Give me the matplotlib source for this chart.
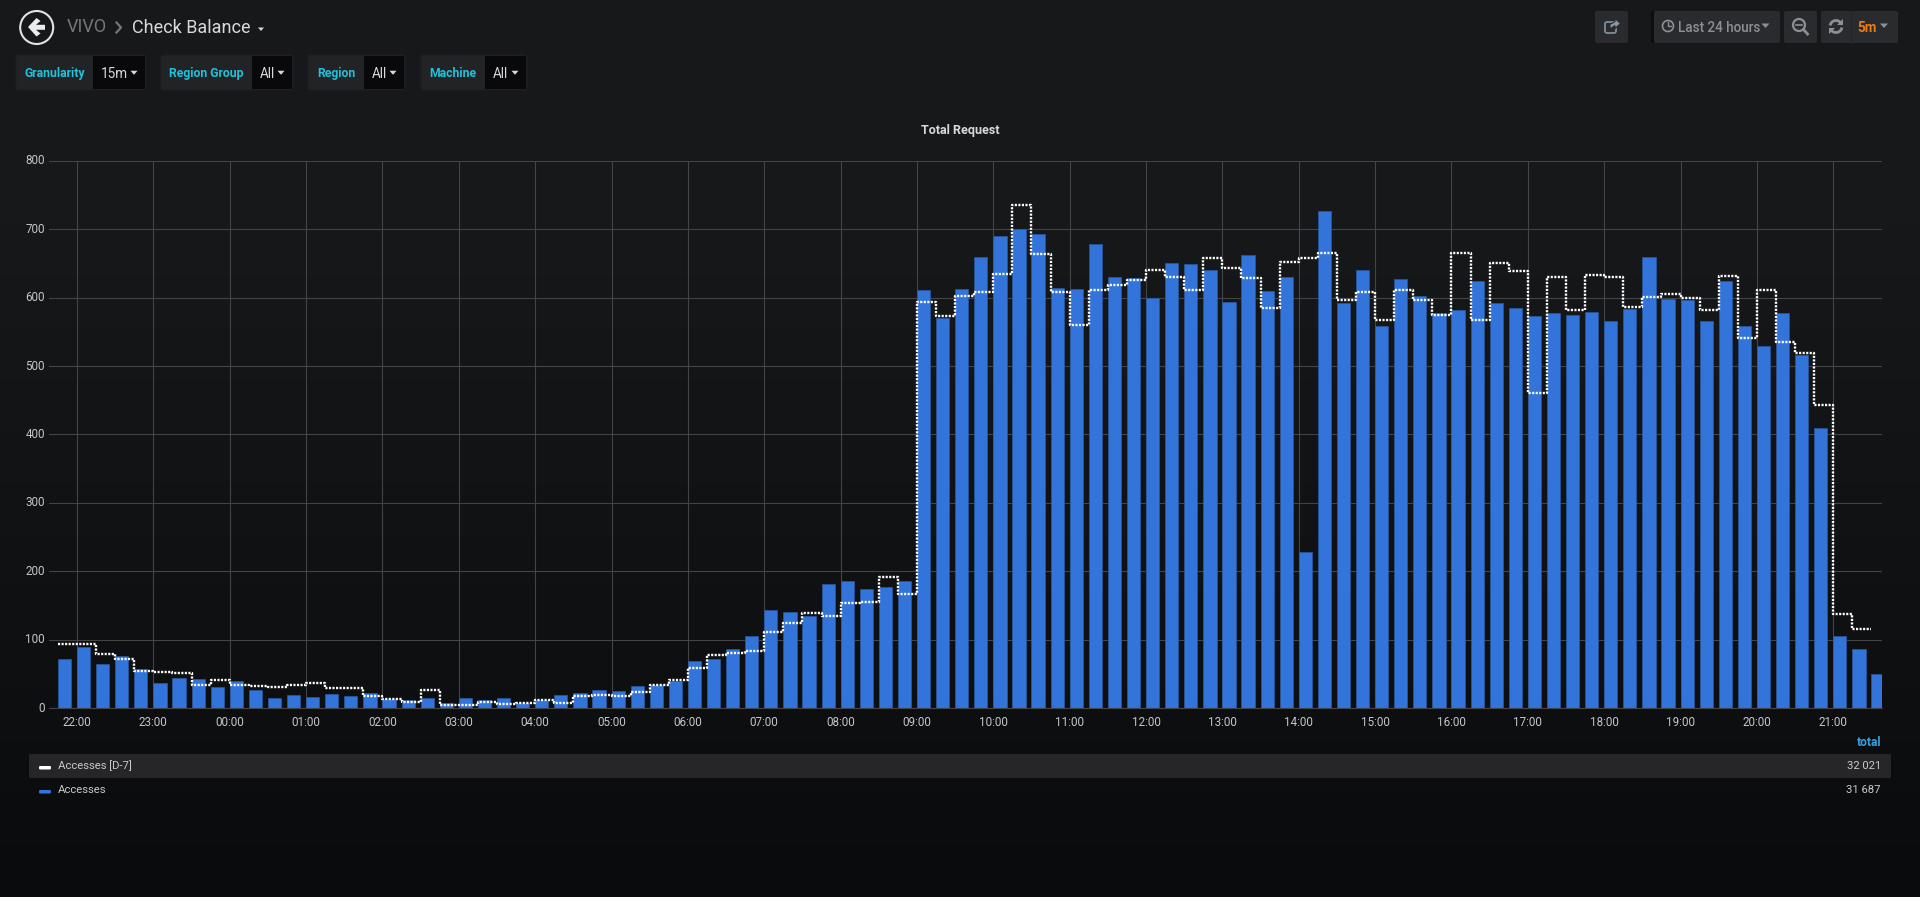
import numpy as np
import matplotlib
matplotlib.use("Agg")
import matplotlib.pyplot as plt
from matplotlib.patches import Circle, FancyBboxPatch, Polygon, Rectangle, Arc

plt.rcParams['font.family'] = ['Roboto', 'DejaVu Sans']

W, H = 1920, 897

# 15 minute buckets, first one is 21:45
accesses = [72, 89, 65, 76, 57, 36, 44, 42, 30, 40, 26, 15, 19, 16, 20, 18,
            22, 13, 11, 14, 8, 14, 11, 14, 8, 12, 19, 22, 27, 25, 32, 33,
            40, 69, 72, 86, 105, 143, 140, 134, 182, 186, 174, 177, 186, 612,
            570, 613, 659, 691, 700, 693, 614, 613, 679, 631, 629, 600, 651, 649,
            641, 594, 663, 610, 631, 228, 727, 593, 640, 559, 628, 603, 577, 582,
            624, 593, 585, 574, 577, 575, 579, 566, 583, 660, 598, 596, 566, 624,
            558, 530, 578, 517, 409, 105, 87, 50]
accesses_d7 = [93, 93, 79, 71, 54, 52, 51, 33, 41, 34, 32, 30, 33, 36, 29, 29,
               18, 13, 9, 26, 5, 5, 9, 6, 8, 12, 8, 17, 19, 18, 24, 33,
               41, 59, 77, 81, 83, 111, 124, 139, 135, 153, 155, 191, 167, 594,
               574, 603, 608, 635, 736, 664, 608, 560, 612, 618, 626, 640, 631, 612,
               658, 643, 629, 585, 652, 658, 665, 597, 608, 567, 612, 597, 575, 666,
               568, 651, 639, 461, 631, 582, 633, 631, 587, 601, 605, 600, 582, 632,
               541, 612, 535, 519, 443, 138, 116, 116]
hours = ['22:00', '23:00', '00:00', '01:00', '02:00', '03:00', '04:00', '05:00',
         '06:00', '07:00', '08:00', '09:00', '10:00', '11:00', '12:00', '13:00',
         '14:00', '15:00', '16:00', '17:00', '18:00', '19:00', '20:00', '21:00']
y_ticks = [0, 100, 200, 300, 400, 500, 600, 700, 800]
filters = ['Granularity', 'Region Group', 'Region', 'Machine']
filter_values = ['15m', 'All', 'All', 'All']
legend_names = ['Accesses [D-7]', 'Accesses']
legend_totals = ['32 021', '31 687']

BLUE = '#3274d9'
GRID = '#434447'
TICK = '#c4c6c9'

fig = plt.figure(figsize=(W / 100, H / 100), dpi=100)

# page background gets darker towards the bottom
bg = fig.add_axes([0, 0, 1, 1], zorder=0)
bg.axis('off')
c_top = np.array([0x17, 0x18, 0x1a]) / 255
c_bot = np.array([0x0a, 0x0b, 0x0d]) / 255
f = np.clip((np.linspace(0, 1, H) - 0.25) / 0.75, 0, 1)[:, None, None]
bg.imshow(c_top * (1 - f) + c_bot * f, aspect='auto', extent=(0, W, H, 0))

# the chart itself, placed by pixel box
left, right, top, bottom = 49, 1882, 161, 708
ax = fig.add_axes([left / W, 1 - bottom / H, (right - left) / W, (bottom - top) / H], zorder=1)
ax.patch.set_alpha(0)
step = 19.09
x = np.arange(len(accesses))
ax.bar(x, accesses, width=13.2 / step, align='edge', color=BLUE, edgecolor='#2858a6',
       linewidth=0.5, zorder=2)
ax.plot(x, accesses_d7, drawstyle='steps-post', color='white', lw=1.7,
        linestyle=(0, (0.9, 0.6)), zorder=3)
ax.set_xlim((left - 57.9) / step, (right - 57.9) / step)
ax.set_ylim(0, 800)
ax.set_xticks(np.arange(1, 96, 4))
ax.set_xticklabels(hours)
ax.set_yticks(y_ticks)
ax.grid(True, color=GRID, lw=0.8, zorder=0)
ax.set_axisbelow(True)
ax.tick_params(axis='both', length=0, labelsize=8.4, labelcolor=TICK)
ax.tick_params(axis='x', pad=6)
ax.tick_params(axis='y', pad=3)
for lab in ax.get_yticklabels():
    lab.set_va('center')
for name, sp in ax.spines.items():
    sp.set_visible(name == 'bottom')
    sp.set_color(GRID)
    sp.set_linewidth(0.8)

# header, filters and legend are drawn in pixel coordinates
ui = fig.add_axes([0, 0, 1, 1], zorder=2)
ui.set_xlim(0, W)
ui.set_ylim(H, 0)
ui.axis('off')


def txt(x0, y0, s, px=13, color='#d8d9da', ha='left', weight='normal'):
    ui.text(x0, y0, s, fontsize=px * 0.72, color=color, ha=ha, va='center', weight=weight)


def box(x0, y0, x1, y1, color, r=2, edge='none'):
    ui.add_patch(FancyBboxPatch((x0 + r, y0 + r), x1 - x0 - 2 * r, y1 - y0 - 2 * r,
                                boxstyle=f'round,pad={r},rounding_size={r}',
                                fc=color, ec=edge, lw=0.8))


def caret(x0, y0, color='#d8d9da', s=4):
    ui.add_patch(Polygon([(x0 - s, y0 - s / 2), (x0 + s, y0 - s / 2), (x0, y0 + s / 2 + 0.5)],
                         fc=color, ec='none'))


# back button
ui.add_patch(Circle((36.7, 27.5), 16.5, fc='none', ec='#e3e3e3', lw=1.5))
ui.add_patch(Polygon([(28, 27), (36.5, 18), (40.5, 21), (36, 24.8), (45, 24.8), (45, 29.8),
                      (36, 29.8), (40.5, 33.5), (36.5, 36.5)], fc='#ececec', ec='none'))
txt(67, 27.5, 'VIVO', 18, '#75777b')
ui.plot([116.5, 121, 116.5], [22.5, 27.5, 32.5], color='#75777b', lw=1.6)
txt(132, 28, 'Check Balance', 18, '#d8d9da')
caret(261, 29, '#d8d9da', 3)

# filter row
label_boxes = [(16, 93, 146), (161, 252, 293), (308, 364, 405), (421, 485, 527)]
for name, value, (x0, x1, x2) in zip(filters, filter_values, label_boxes):
    box(x0, 55, x2, 90, '#212327', edge='#1d1e21')
    ui.add_patch(Rectangle((x1, 56), x2 - x1 - 1, 33, fc='#09090b', ec='none'))
    txt((x0 + x1) / 2, 73.5, name, 12.2, '#1fc2d9', ha='center', weight='bold')
    txt(x1 + 7.5, 74, value, 13.5, '#d8d9da')
    caret(x2 - 12, 72.5, '#d8d9da', 3.5)

# top right buttons
BTN = '#2a2b2e'
ICON = '#8e8f92'
box(1595, 11, 1628, 43, BTN)
ui.add_patch(FancyBboxPatch((1605, 22), 11, 11, boxstyle='round,pad=0,rounding_size=2',
                            fc='none', ec='#7e8c9c', lw=1.3))
ui.add_patch(Polygon([(1610, 29), (1610, 24.5), (1615, 21.5), (1615, 18.5), (1620.5, 23.5),
                      (1615, 28.5), (1615, 25.5)], fc='#8d99a6', ec=BTN, lw=0.8))
ui.add_patch(Rectangle((1651, 11), 3, 32, fc='#0c0d0f', ec='none'))
box(1654, 11, 1780, 43, BTN)
ui.add_patch(Circle((1668, 26), 5.5, fc='none', ec=ICON, lw=1.2))
ui.plot([1668, 1668, 1671], [22.5, 26.5, 26.5], color=ICON, lw=1)
txt(1678, 27.5, 'Last 24 hours', 13.5, ICON, weight='medium')
caret(1765.5, 25.5, ICON, 4)
box(1784, 11, 1817, 43, BTN)
ui.add_patch(Circle((1799, 25), 6, fc='none', ec=ICON, lw=1.6))
ui.plot([1803.5, 1807.5], [29.5, 34], color=ICON, lw=2)
ui.plot([1796, 1802], [25, 25], color=ICON, lw=1.2)
box(1821, 11, 1898, 43, BTN)
ui.plot([1851, 1851], [11, 43], color='#232427', lw=0.8)
ui.add_patch(Arc((1836, 26.5), 12, 12, theta1=190, theta2=330, ec=ICON, lw=2))
ui.add_patch(Arc((1836, 26.5), 12, 12, theta1=10, theta2=150, ec=ICON, lw=2))
ui.add_patch(Polygon([(1843, 19), (1843, 25), (1837, 25)], fc=ICON, ec='none'))
ui.add_patch(Polygon([(1829, 34), (1829, 28), (1835, 28)], fc=ICON, ec='none'))
txt(1857, 27.5, '5m', 13.5, '#eb7b18', weight='bold')
caret(1884, 25.5, ICON, 4)

txt(960, 130.5, 'Total Request', 12.5, '#d8d9da', ha='center', weight='bold')

# legend table
ui.add_patch(Rectangle((29, 754), 1862, 24, fc='#262628', ec='none'))
txt(1881, 743, 'total', 12, '#33a2e5', ha='right', weight='bold')
for name, total, yy, col in zip(legend_names, legend_totals, [766, 790], ['white', BLUE]):
    txt(58, yy, name, 11.2, '#c8c9ca')
    txt(1881, yy, total, 11.2, '#c8c9ca', ha='right')
    box(39, yy, 51, yy + 3.5, col, r=1.2)

fig.savefig('out.png', dpi=100, facecolor='#161719')
